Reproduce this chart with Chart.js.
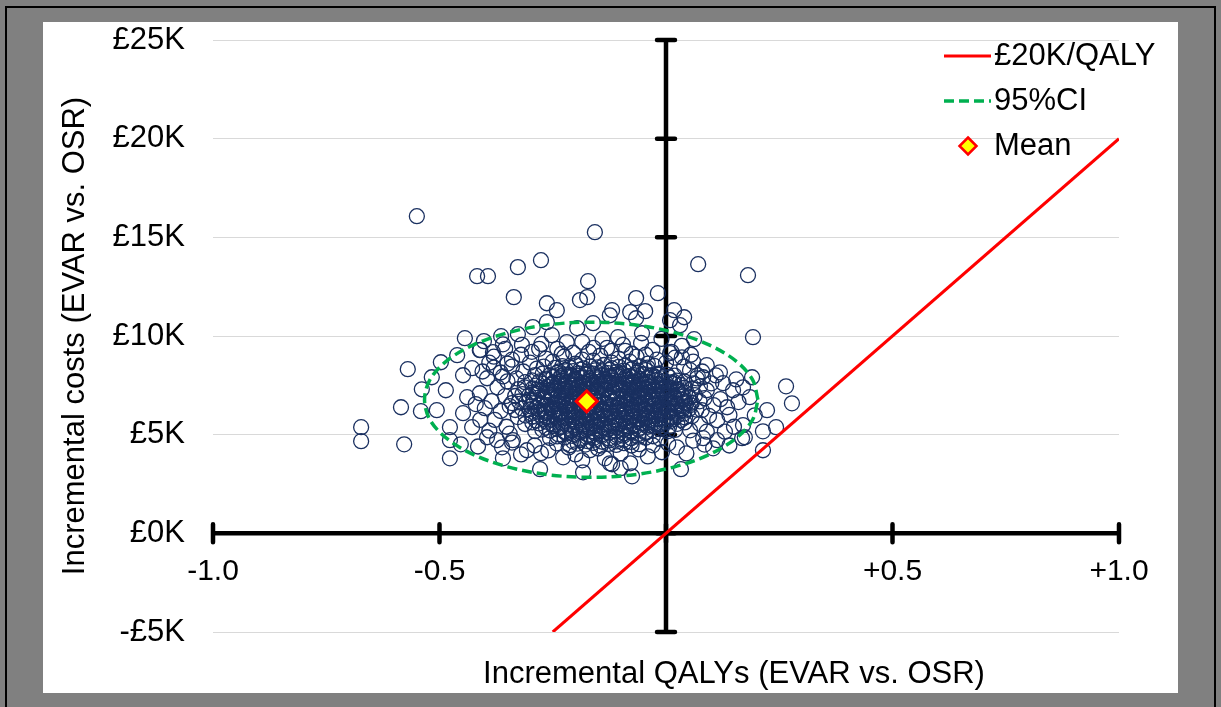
<!DOCTYPE html>
<html>
<head>
<meta charset="utf-8">
<script src="https://cdn.jsdelivr.net/npm/chart.js"></script>
<style>
  html, body { margin: 0; padding: 0; }
  body { width: 1221px; height: 707px; background: #808080; position: relative; overflow: hidden; }
  #frame { position: absolute; left: 5px; top: 6px; width: 1207px; height: 740px; border: 2px solid #000; }
  #panel { position: absolute; left: 43px; top: 22px; width: 1135px; height: 671px; background: #fff; }
  canvas { display: block; }
</style>
</head>
<body>
<div id="frame"></div>
<div id="panel"><canvas id="ce" width="1135" height="671"></canvas></div>
<script>
const FONT = "'Liberation Sans', Arial, sans-serif";
const X_TITLE = "Incremental QALYs (EVAR vs. OSR)";
const Y_TITLE = "Incremental costs (EVAR vs. OSR)";

const xTickValues = [-1, -0.5, 0, 0.5, 1];
const xTickLabels = ["-1.0", "-0.5", "", "+0.5", "+1.0"];
const yTickValues = [-5, 0, 5, 10, 15, 20, 25];
const yTickLabels = ["-£5K", "£0K", "£5K", "£10K", "£15K", "£20K", "£25K"];

// £20K per QALY threshold (costs in £K)
const wtpQaly = [-0.25, 1.0];
const wtpCost = [-5, 20];

const meanPoint = [-0.175, 6.69];

// points read along the 95% CI ellipse
const ciEllipse = [
  [0.203,6.77],[0.191,7.79],[0.154,8.74],[0.095,9.55],[0.019,10.17],[-0.070,10.57],
  [-0.165,10.70],[-0.260,10.57],[-0.349,10.17],[-0.425,9.55],[-0.484,8.74],[-0.521,7.79],
  [-0.533,6.77],[-0.521,5.75],[-0.484,4.81],[-0.425,3.99],[-0.349,3.37],[-0.260,2.97],
  [-0.165,2.84],[-0.070,2.97],[0.019,3.37],[0.095,3.99],[0.154,4.81],[0.191,5.75],[0.203,6.77]
];

// simulations, dense core of the cloud (QALY, £K)
const simCore = [
  [-0.245,8.38],[-0.229,8.47],[-0.213,8.40],[-0.199,8.51],[-0.182,8.36],[-0.168,8.45],[-0.151,8.41],[-0.137,8.53],[-0.120,8.37],[-0.104,8.44],[-0.090,8.50],[-0.073,8.35],[-0.057,8.46],[-0.041,8.40],[-0.026,8.49],
  [-0.289,8.02],[-0.272,8.10],[-0.257,8.00],[-0.240,8.13],[-0.225,8.05],[-0.208,7.98],[-0.193,8.11],[-0.176,8.04],[-0.160,8.09],[-0.144,7.99],[-0.128,8.12],[-0.111,8.03],[-0.096,8.08],[-0.079,7.97],[-0.064,8.14],[-0.047,8.06],[-0.031,8.01],[-0.015,8.10],[0.002,8.04],[0.019,7.99],
  [-0.311,7.66],[-0.296,7.75],[-0.279,7.70],[-0.264,7.79],[-0.247,7.64],[-0.232,7.73],[-0.215,7.68],[-0.200,7.77],[-0.183,7.62],[-0.168,7.71],[-0.151,7.80],[-0.136,7.67],[-0.119,7.74],[-0.104,7.69],[-0.087,7.78],[-0.072,7.63],[-0.055,7.72],[-0.040,7.66],[-0.023,7.76],[-0.008,7.70],[0.009,7.65],[0.024,7.74],[0.041,7.69],
  [-0.326,7.31],[-0.312,7.40],[-0.294,7.34],[-0.280,7.28],[-0.262,7.42],[-0.248,7.36],[-0.230,7.30],[-0.216,7.39],[-0.198,7.33],[-0.184,7.44],[-0.166,7.29],[-0.152,7.37],[-0.134,7.32],[-0.120,7.41],[-0.102,7.35],[-0.088,7.27],[-0.070,7.38],[-0.056,7.33],[-0.038,7.43],[-0.024,7.30],[-0.006,7.36],[0.008,7.40],[0.026,7.31],[0.040,7.37],[0.057,7.34],
  [-0.333,6.96],[-0.317,7.05],[-0.302,6.99],[-0.285,7.08],[-0.270,6.94],[-0.253,7.02],[-0.238,6.97],[-0.221,7.06],[-0.206,6.93],[-0.189,7.01],[-0.174,7.07],[-0.157,6.95],[-0.142,7.03],[-0.125,6.98],[-0.110,7.09],[-0.093,6.92],[-0.078,7.04],[-0.061,6.99],[-0.046,7.06],[-0.029,6.95],[-0.014,7.01],[0.003,7.07],[0.018,6.97],[0.034,7.03],[0.049,6.94],[0.064,7.00],
  [-0.340,6.60],[-0.324,6.68],[-0.309,6.63],[-0.293,6.71],[-0.277,6.57],[-0.261,6.66],[-0.245,6.61],[-0.229,6.70],[-0.213,6.58],[-0.198,6.65],[-0.182,6.72],[-0.166,6.59],[-0.150,6.67],[-0.134,6.62],[-0.118,6.69],[-0.103,6.56],[-0.087,6.64],[-0.071,6.70],[-0.055,6.60],[-0.039,6.66],[-0.023,6.73],[-0.008,6.61],[0.008,6.68],[0.024,6.58],[0.040,6.65],[0.057,6.62],[0.074,6.69],
  [-0.333,6.25],[-0.318,6.33],[-0.301,6.28],[-0.286,6.36],[-0.269,6.22],[-0.254,6.31],[-0.237,6.26],[-0.222,6.35],[-0.205,6.23],[-0.190,6.30],[-0.173,6.37],[-0.158,6.24],[-0.141,6.32],[-0.126,6.27],[-0.109,6.34],[-0.094,6.21],[-0.077,6.29],[-0.062,6.35],[-0.045,6.25],[-0.030,6.31],[-0.013,6.38],[0.002,6.26],[0.019,6.33],[0.034,6.23],[0.051,6.30],[0.067,6.27],
  [-0.327,5.89],[-0.310,5.97],[-0.295,5.92],[-0.278,6.00],[-0.263,5.86],[-0.246,5.95],[-0.231,5.90],[-0.214,5.99],[-0.199,5.87],[-0.182,5.94],[-0.167,6.01],[-0.150,5.88],[-0.135,5.96],[-0.118,5.91],[-0.103,5.98],[-0.086,5.85],[-0.071,5.93],[-0.054,5.99],[-0.039,5.89],[-0.022,5.95],[-0.007,6.02],[0.010,5.90],[0.025,5.97],[0.042,5.87],[0.057,5.94],
  [-0.311,5.54],[-0.295,5.62],[-0.280,5.57],[-0.263,5.65],[-0.248,5.51],[-0.231,5.60],[-0.216,5.55],[-0.199,5.64],[-0.184,5.52],[-0.167,5.59],[-0.152,5.66],[-0.135,5.53],[-0.120,5.61],[-0.103,5.56],[-0.088,5.63],[-0.071,5.50],[-0.056,5.58],[-0.039,5.64],[-0.024,5.54],[-0.007,5.60],[0.008,5.67],[0.025,5.55],[0.041,5.62],
  [-0.289,5.18],[-0.273,5.26],[-0.256,5.21],[-0.240,5.29],[-0.224,5.15],[-0.208,5.24],[-0.191,5.19],[-0.175,5.28],[-0.159,5.16],[-0.143,5.23],[-0.126,5.30],[-0.110,5.17],[-0.094,5.25],[-0.078,5.20],[-0.061,5.27],[-0.045,5.14],[-0.029,5.22],[-0.013,5.28],[0.004,5.18],[0.020,5.24],
  [-0.256,4.83],[-0.240,4.91],[-0.224,4.86],[-0.207,4.94],[-0.191,4.80],[-0.175,4.89],[-0.159,4.84],[-0.142,4.93],[-0.126,4.81],[-0.110,4.88],[-0.094,4.95],[-0.077,4.82],[-0.061,4.90],[-0.045,4.85],[-0.029,4.92],[-0.013,4.79],
  [-0.212,4.47],[-0.195,4.55],[-0.178,4.50],[-0.161,4.58],[-0.144,4.44],[-0.127,4.53],[-0.110,4.48],[-0.093,4.57],[-0.076,4.45],[-0.059,4.52],
  [-0.237,8.20],[-0.221,8.28],[-0.205,8.22],[-0.189,8.30],[-0.173,8.19],[-0.157,8.26],[-0.141,8.21],[-0.125,8.29],[-0.109,8.18],[-0.093,8.25],[-0.077,8.31],[-0.061,8.23],[-0.045,8.27],
  [-0.265,7.84],[-0.249,7.92],[-0.233,7.86],[-0.217,7.94],[-0.201,7.83],[-0.185,7.90],[-0.169,7.85],[-0.153,7.93],[-0.137,7.82],[-0.121,7.89],[-0.105,7.95],[-0.089,7.87],[-0.073,7.91],[-0.057,7.83],[-0.041,7.88],[-0.025,7.94],[-0.009,7.85],[0.007,7.90],
  [-0.287,7.49],[-0.271,7.57],[-0.255,7.51],[-0.239,7.59],[-0.223,7.48],[-0.207,7.55],[-0.191,7.50],[-0.175,7.58],[-0.159,7.47],[-0.143,7.54],[-0.127,7.60],[-0.111,7.52],[-0.095,7.56],[-0.079,7.48],[-0.063,7.53],[-0.047,7.59],[-0.031,7.50],[-0.015,7.55],[0.001,7.46],[0.017,7.57],[0.033,7.52],
  [-0.294,7.14],[-0.278,7.22],[-0.262,7.16],[-0.246,7.24],[-0.230,7.13],[-0.214,7.20],[-0.198,7.15],[-0.182,7.23],[-0.166,7.12],[-0.150,7.19],[-0.134,7.25],[-0.118,7.17],[-0.102,7.21],[-0.086,7.13],[-0.070,7.18],[-0.054,7.24],[-0.038,7.15],[-0.022,7.20],[-0.006,7.11],[0.010,7.22],[0.026,7.17],[0.042,7.14],
  [-0.301,6.78],[-0.285,6.86],[-0.269,6.80],[-0.253,6.88],[-0.237,6.77],[-0.221,6.84],[-0.205,6.79],[-0.189,6.87],[-0.173,6.76],[-0.157,6.83],[-0.141,6.89],[-0.125,6.81],[-0.109,6.85],[-0.093,6.77],[-0.077,6.82],[-0.061,6.88],[-0.045,6.79],[-0.029,6.84],[-0.013,6.75],[0.003,6.86],[0.019,6.81],[0.035,6.78],[0.051,6.85],
  [-0.298,6.43],[-0.282,6.51],[-0.266,6.45],[-0.250,6.53],[-0.234,6.42],[-0.218,6.49],[-0.202,6.44],[-0.186,6.52],[-0.170,6.41],[-0.154,6.48],[-0.138,6.54],[-0.122,6.46],[-0.106,6.50],[-0.090,6.42],[-0.074,6.47],[-0.058,6.53],[-0.042,6.44],[-0.026,6.49],[-0.010,6.40],[0.006,6.51],[0.022,6.46],[0.038,6.43],[0.054,6.50],
  [-0.297,6.07],[-0.281,6.15],[-0.265,6.09],[-0.249,6.17],[-0.233,6.06],[-0.217,6.13],[-0.201,6.08],[-0.185,6.16],[-0.169,6.05],[-0.153,6.12],[-0.137,6.18],[-0.121,6.10],[-0.105,6.14],[-0.089,6.06],[-0.073,6.11],[-0.057,6.17],[-0.041,6.08],[-0.025,6.13],[-0.009,6.04],[0.007,6.15],[0.023,6.10],[0.039,6.07],
  [-0.287,5.72],[-0.271,5.80],[-0.255,5.74],[-0.239,5.82],[-0.223,5.71],[-0.207,5.78],[-0.191,5.73],[-0.175,5.81],[-0.159,5.70],[-0.143,5.77],[-0.127,5.83],[-0.111,5.75],[-0.095,5.79],[-0.079,5.71],[-0.063,5.76],[-0.047,5.82],[-0.031,5.73],[-0.015,5.78],[0.001,5.69],[0.017,5.80],[0.033,5.75],
  [-0.265,5.36],[-0.249,5.44],[-0.233,5.38],[-0.217,5.46],[-0.201,5.35],[-0.185,5.42],[-0.169,5.37],[-0.153,5.45],[-0.137,5.34],[-0.121,5.41],[-0.105,5.47],[-0.089,5.39],[-0.073,5.43],[-0.057,5.35],[-0.041,5.40],[-0.025,5.46],[-0.009,5.37],[0.007,5.42],
  [-0.237,5.01],[-0.221,5.09],[-0.205,5.03],[-0.189,5.11],[-0.173,5.00],[-0.157,5.07],[-0.141,5.02],[-0.125,5.10],[-0.109,4.99],[-0.093,5.06],[-0.077,5.12],[-0.061,5.04],[-0.045,5.08],
  [-0.205,4.65],[-0.189,4.73],[-0.173,4.67],[-0.157,4.75],[-0.141,4.64],[-0.125,4.71],[-0.109,4.66],[-0.093,4.74],[-0.077,4.63]
];

// simulations, densest centre of the cloud
const simCentre = [
  [-0.232,7.96],[-0.214,8.04],[-0.196,7.99],[-0.178,8.06],[-0.160,7.95],[-0.142,8.02],[-0.124,7.97],[-0.106,8.05],[-0.088,7.94],[-0.070,8.01],[-0.052,8.07],[-0.034,7.98],[-0.016,8.03],
  [-0.252,7.58],[-0.234,7.66],[-0.216,7.61],[-0.198,7.68],[-0.180,7.57],[-0.162,7.64],[-0.144,7.59],[-0.126,7.67],[-0.108,7.56],[-0.090,7.63],[-0.072,7.69],[-0.054,7.60],[-0.036,7.65],[-0.018,7.57],[0.000,7.62],[0.018,7.66],
  [-0.262,7.23],[-0.244,7.31],[-0.226,7.26],[-0.208,7.33],[-0.190,7.22],[-0.172,7.29],[-0.154,7.24],[-0.136,7.32],[-0.118,7.21],[-0.100,7.28],[-0.082,7.34],[-0.064,7.25],[-0.046,7.30],[-0.028,7.22],[-0.010,7.27],[0.008,7.31],[0.026,7.24],
  [-0.268,6.87],[-0.250,6.95],[-0.232,6.90],[-0.214,6.97],[-0.196,6.86],[-0.178,6.93],[-0.160,6.88],[-0.142,6.96],[-0.124,6.85],[-0.106,6.92],[-0.088,6.98],[-0.070,6.89],[-0.052,6.94],[-0.034,6.86],[-0.016,6.91],[0.002,6.95],[0.020,6.88],[0.038,6.93],
  [-0.262,6.51],[-0.244,6.59],[-0.226,6.54],[-0.208,6.61],[-0.190,6.50],[-0.172,6.57],[-0.154,6.52],[-0.136,6.60],[-0.118,6.49],[-0.100,6.56],[-0.082,6.62],[-0.064,6.53],[-0.046,6.58],[-0.028,6.50],[-0.010,6.55],[0.008,6.59],[0.026,6.52],[0.044,6.57],
  [-0.265,6.16],[-0.247,6.24],[-0.229,6.19],[-0.211,6.26],[-0.193,6.15],[-0.175,6.22],[-0.157,6.17],[-0.139,6.25],[-0.121,6.14],[-0.103,6.21],[-0.085,6.27],[-0.067,6.18],[-0.049,6.23],[-0.031,6.15],[-0.013,6.20],[0.005,6.24],[0.023,6.17],[0.041,6.22],
  [-0.256,5.80],[-0.238,5.88],[-0.220,5.83],[-0.202,5.90],[-0.184,5.79],[-0.166,5.86],[-0.148,5.81],[-0.130,5.89],[-0.112,5.78],[-0.094,5.85],[-0.076,5.91],[-0.058,5.82],[-0.040,5.87],[-0.022,5.79],[-0.004,5.84],[0.014,5.88],
  [-0.232,5.45],[-0.214,5.53],[-0.196,5.48],[-0.178,5.55],[-0.160,5.44],[-0.142,5.51],[-0.124,5.46],[-0.106,5.54],[-0.088,5.43],[-0.070,5.50],[-0.052,5.56],[-0.034,5.47],[-0.016,5.52]
];

// simulations, sparser ring and outliers
const simOuter = [
  [-0.550,16.07],[-0.157,15.26],[-0.417,13.03],[-0.393,13.03],[-0.327,13.49],[-0.276,13.84],[-0.336,11.97],[-0.263,11.66],
  [-0.241,11.31],[-0.190,11.82],[-0.174,11.97],[-0.172,12.78],[-0.119,11.31],[-0.079,11.21],[-0.066,11.92],[-0.046,11.26],
  [-0.018,12.17],[0.018,11.31],[0.040,10.95],[0.009,10.80],[0.062,9.84],[0.071,13.64],[0.181,13.08],[0.192,9.94],
  [-0.066,10.90],[-0.161,10.65],[-0.124,11.05],[-0.196,10.40],[-0.106,9.94],[-0.053,10.14],[0.031,10.55],
  [-0.444,9.89],[-0.402,9.74],[-0.364,9.99],[-0.327,10.09],[-0.294,10.45],[-0.263,10.70],[-0.252,10.04],[-0.219,9.69],
  [-0.355,9.35],[-0.318,9.55],[-0.296,9.20],[-0.275,9.60],[-0.240,9.35],[-0.205,9.15],[-0.185,9.70],[-0.160,9.40],
  [-0.140,9.85],[-0.120,9.25],[-0.095,9.55],[-0.075,9.10],[-0.055,9.65],[-0.030,9.30],[-0.010,9.85],[0.012,9.20],
  [0.035,9.50],[0.055,9.05],[-0.380,8.95],[-0.410,9.30],[-0.340,8.80],[-0.265,8.85],[-0.225,8.95],[-0.185,8.80],
  [-0.145,9.00],[-0.105,8.85],[-0.065,8.95],[-0.020,8.80],[0.020,8.90],[0.060,8.70],[0.090,8.52],[0.035,8.92],
  [0.009,9.13],[-0.300,8.65],[-0.250,8.70],[-0.200,8.60],[-0.160,8.75],[-0.120,8.65],[-0.080,8.70],[-0.040,8.60],
  [0.000,8.65],[-0.340,8.45],[0.053,8.27],[0.080,8.20],[0.119,8.16],[0.082,7.91],
  [-0.320,9.05],[-0.280,9.35],[-0.230,9.10],[-0.170,9.20],[-0.130,9.40],[-0.090,9.25],[-0.045,9.05],[-0.390,8.65],
  [-0.285,8.35],[-0.315,8.20],[-0.365,8.15],[-0.330,7.85],[-0.270,8.45],[0.040,8.45],[0.070,8.00],[0.060,7.60],
  [-0.461,9.03],[-0.411,9.28],[-0.428,8.37],[-0.382,9.18],[-0.360,9.58],[-0.395,7.86],[-0.448,8.01],[-0.439,6.90],
  [-0.428,5.38],[-0.448,6.09],[-0.395,4.87],[-0.373,4.72],[-0.362,4.36],[-0.400,6.34],[-0.411,7.10],[-0.477,3.80],
  [-0.477,4.72],[-0.477,5.38],[-0.453,4.51],
  [-0.380,8.40],[-0.360,7.95],[-0.372,7.40],[-0.355,6.95],[-0.385,6.70],[-0.365,6.20],[-0.378,5.75],[-0.352,5.40],
  [-0.390,5.20],[-0.345,5.05],[-0.410,5.75],[-0.420,6.55],[-0.405,8.20],[-0.350,8.60],[-0.340,4.60],[-0.415,4.40],
  [-0.350,7.70],[-0.345,6.45],
  [-0.570,8.32],[-0.585,6.39],[-0.673,5.38],[-0.673,4.67],[-0.578,4.51],[-0.539,7.30],[-0.541,6.19],[-0.517,7.91],
  [-0.497,8.67],[-0.506,6.24],[-0.486,7.25],
  [-0.278,3.25],[-0.276,4.06],[-0.227,3.85],[-0.241,4.56],[-0.307,4.21],[-0.338,4.72],[-0.183,3.09],[-0.075,2.89],
  [-0.079,3.55],[-0.124,3.55],[0.033,3.25],[-0.135,3.80],[-0.119,3.50],[-0.168,4.21],[-0.029,4.46],[-0.009,4.11],
  [0.024,4.36],[-0.360,3.80],[-0.290,4.45],[-0.260,4.20],[-0.200,4.00],[-0.150,4.30],[-0.100,4.05],[-0.060,4.25],
  [-0.040,3.90],[0.005,4.55],[-0.215,4.35],[-0.185,3.70],[-0.320,4.00],[-0.100,3.30],[0.045,4.05],
  [0.053,5.22],[0.082,4.82],[0.113,4.72],[0.104,4.31],[0.168,4.82],[0.170,5.48],[0.196,5.98],[0.185,6.90],
  [0.170,7.40],[0.148,7.25],[0.135,6.39],[0.113,5.73],[0.126,7.61],[0.090,7.25],[0.079,6.24],[0.190,7.91],
  [0.265,7.45],[0.278,6.59],[0.243,5.38],[0.214,5.17],[0.223,6.24],[0.214,4.21],[0.174,4.87],
  [0.085,6.85],[0.100,7.60],[0.095,5.95],[0.120,6.80],[0.140,6.00],[0.150,5.40],[0.075,5.55],[0.105,6.50],
  [0.130,5.15],[0.090,5.15],[0.160,6.65],[0.110,8.00],[0.068,7.85],[0.075,7.45],[0.085,4.50],[0.060,4.70],
  [0.140,4.45],[0.155,7.80]
];

const toXY = arr => arr.map(([x, y]) => ({ x, y }));

// thick crossing axes with tick bars, drawn under the datasets
const crossAxes = {
  id: "crossAxes",
  beforeDatasetsDraw(chart) {
    const { ctx, scales: { x, y } } = chart;
    const x0 = x.getPixelForValue(0);
    const y0 = y.getPixelForValue(0);
    ctx.save();
    ctx.strokeStyle = "#000";
    ctx.lineWidth = 4.5;
    ctx.beginPath();
    ctx.moveTo(x.getPixelForValue(x.min), y0);
    ctx.lineTo(x.getPixelForValue(x.max), y0);
    ctx.moveTo(x0, y.getPixelForValue(y.min));
    ctx.lineTo(x0, y.getPixelForValue(y.max));
    ctx.stroke();
    ctx.lineCap = "round";
    ctx.beginPath();
    for (const v of xTickValues) {
      const px = x.getPixelForValue(v);
      ctx.moveTo(px, y0 - 9);
      ctx.lineTo(px, y0 + 9);
    }
    for (const v of yTickValues) {
      const py = y.getPixelForValue(v);
      ctx.moveTo(x0 - 9, py);
      ctx.lineTo(x0 + 9, py);
    }
    ctx.stroke();
    ctx.restore();
  }
};

const xTitle = {
  id: "xTitle",
  afterDraw(chart) {
    const { ctx, chartArea } = chart;
    ctx.save();
    ctx.font = "31px " + FONT;
    ctx.fillStyle = "#000";
    ctx.textAlign = "center";
    ctx.textBaseline = "alphabetic";
    ctx.fillText(X_TITLE, (chartArea.left + chartArea.right) / 2 + 68, chartArea.bottom + 51);
    ctx.restore();
  }
};

const cornerLegend = {
  id: "cornerLegend",
  afterDraw(chart) {
    const { ctx, chartArea } = chart;
    const sx = chartArea.right - 175;
    let cy = chartArea.top + 16;
    ctx.save();
    ctx.font = "31px " + FONT;
    ctx.textBaseline = "middle";
    ctx.textAlign = "left";
    for (const ds of chart.data.datasets) {
      if (!ds.label) continue;
      if (ds.showLine) {
        ctx.strokeStyle = ds.borderColor;
        ctx.lineWidth = ds.borderWidth;
        ctx.setLineDash(ds.borderDash || []);
        ctx.beginPath();
        ctx.moveTo(sx, cy);
        ctx.lineTo(sx + 47, cy);
        ctx.stroke();
        ctx.setLineDash([]);
      } else {
        const r = 8.5, cx = sx + 24;
        ctx.beginPath();
        ctx.moveTo(cx, cy - r);
        ctx.lineTo(cx + r, cy);
        ctx.lineTo(cx, cy + r);
        ctx.lineTo(cx - r, cy);
        ctx.closePath();
        ctx.fillStyle = ds.backgroundColor;
        ctx.fill();
        ctx.strokeStyle = ds.borderColor;
        ctx.lineWidth = 2.5;
        ctx.stroke();
      }
      ctx.fillStyle = "#000";
      ctx.fillText(ds.label, sx + 50, cy);
      cy += 45;
    }
    ctx.restore();
  }
};

new Chart(document.getElementById("ce"), {
  type: "scatter",
  data: {
    datasets: [
      {
        label: "£20K/QALY",
        data: wtpQaly.map((x, i) => ({ x, y: wtpCost[i] })),
        showLine: true,
        borderColor: "#FF0000",
        borderWidth: 3,
        pointRadius: 0,
        order: 1
      },
      {
        label: "95%CI",
        data: toXY(ciEllipse),
        showLine: true,
        borderColor: "#00B050",
        borderWidth: 3.5,
        borderDash: [10, 5],
        tension: 0.34,
        pointRadius: 0,
        order: 2
      },
      {
        label: "Mean",
        data: toXY([meanPoint]),
        pointStyle: "rectRot",
        pointRadius: 10.5,
        backgroundColor: "#FFFF00",
        borderColor: "#FF0000",
        borderWidth: 3,
        order: 0
      },
      {
        label: "",
        data: toXY(simCore.concat(simCentre, simOuter)),
        pointRadius: 7.5,
        borderColor: "#1A3060",
        backgroundColor: "rgba(0,0,0,0)",
        borderWidth: 1.3,
        order: 3
      }
    ]
  },
  options: {
    responsive: false,
    animation: false,
    events: [],
    devicePixelRatio: 1,
    layout: { padding: { left: 0, top: 18, right: 59, bottom: 61 } },
    plugins: {
      legend: { display: false },
      tooltip: { enabled: false }
    },
    scales: {
      x: {
        type: "linear",
        min: -1,
        max: 1,
        position: { y: 0 },
        afterBuildTicks: s => { s.ticks = xTickValues.map(v => ({ value: v })); },
        afterFit: s => { s.paddingLeft = 0; s.paddingRight = 0; },
        ticks: {
          autoSkip: false,
          maxRotation: 0,
          padding: 20,
          color: "#000",
          font: { family: FONT, size: 30 },
          callback: v => xTickLabels[xTickValues.indexOf(v)] ?? ""
        },
        grid: { display: false, drawTicks: false },
        border: { display: false }
      },
      y: {
        type: "linear",
        min: -5,
        max: 25,
        position: "left",
        afterBuildTicks: s => { s.ticks = yTickValues.map(v => ({ value: v })); },
        afterFit: s => { s.width = 170; s.paddingTop = 0; s.paddingBottom = 0; },
        ticks: {
          padding: 28,
          color: "#000",
          font: { family: FONT, size: 31 },
          callback: v => yTickLabels[yTickValues.indexOf(v)] ?? ""
        },
        grid: { color: "#D9D9D9", lineWidth: 1, drawTicks: false },
        border: { display: false },
        title: {
          display: true,
          text: Y_TITLE,
          color: "#000",
          font: { family: FONT, size: 31 },
          padding: { top: 14, bottom: 0 }
        }
      }
    }
  },
  plugins: [crossAxes, xTitle, cornerLegend]
});
</script>
</body>
</html>
